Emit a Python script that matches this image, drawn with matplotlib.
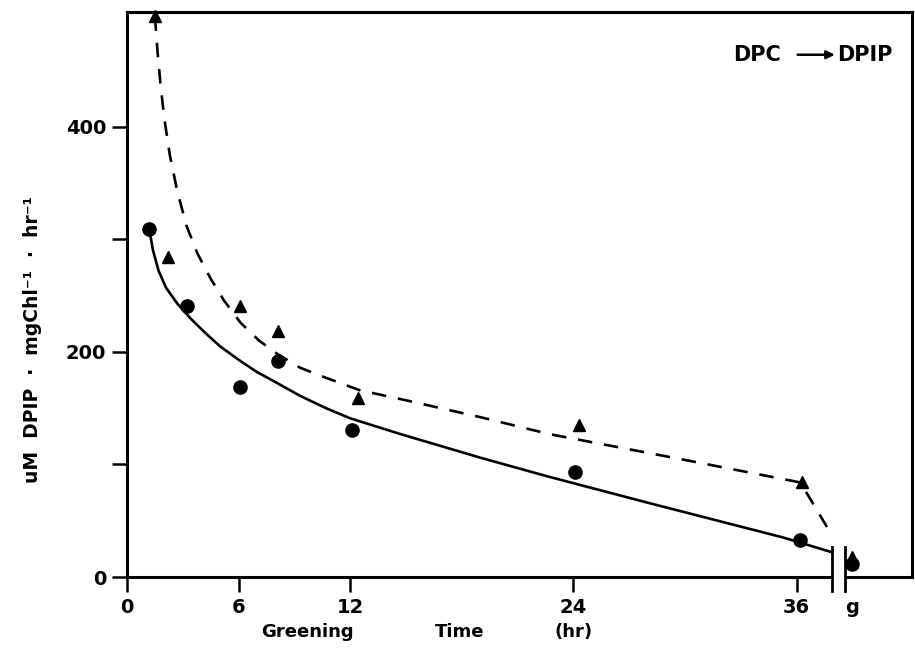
import matplotlib
matplotlib.use("Agg")
import matplotlib.pyplot as plt

plt.rcParams['font.family'] = ['DejaVu Sans']
plt.rcParams['font.weight'] = 'bold'

# measured points (circles, solid curve)
circle_hr = [1.2, 3.2, 6.1, 8.1, 12.1, 24.1, 36.2, 39.0]
circle_val = [309, 241, 169, 192, 131, 93, 33, 12]
# measured points (triangles, dashed curve)
tri_hr = [1.5, 2.2, 6.1, 8.1, 12.4, 24.3, 36.3, 39.0]
tri_val = [498, 284, 241, 219, 159, 135, 84, 18]

# hand-drawn fitted curves
solid_hr = [1.2, 1.4, 1.7, 2.1, 2.7, 3.4, 4.2, 5.0, 6.0, 7.0, 8.0, 9.3, 10.7, 12.0,
            14.7, 19.0, 22.7, 28.0, 35.3, 37.9]
solid_val = [309, 290, 272, 257, 243, 230, 217, 205, 193, 182, 173, 161, 150, 141,
             127, 106, 89, 66, 35, 22]
dash_hr = [1.5, 1.65, 1.8, 2.0, 2.3, 2.7, 3.2, 3.8, 4.5, 5.2, 6.1, 7.1, 8.1, 9.3,
           10.7, 12.5, 15.0, 19.0, 22.7, 30.0, 36.2, 37.9]
dash_val = [498, 465, 438, 408, 375, 343, 312, 287, 265, 246, 226, 210, 198, 186,
            177, 166, 157, 142, 127, 104, 84, 37]

xtick_pos = [0, 6, 12, 24, 36, 39]
xtick_lab = ['0', '6', '12', '24', '36', 'g']
ytick_pos = [0, 100, 200, 300, 400]
ytick_lab = ['0', '', '200', '', '400']

XMAX = 42.2
YMAX = 502
BREAK = (37.9, 38.6)

fig = plt.figure(figsize=(9.15, 6.54), dpi=100)
ax = fig.add_axes([0.1388, 0.1177, 0.9967 - 0.1388, 0.9817 - 0.1177])
ax.set_xlim(0, XMAX)
ax.set_ylim(0, YMAX)

lw_axis = 2.2
for s in ['left', 'top', 'right']:
    ax.spines[s].set_linewidth(lw_axis)
ax.spines['bottom'].set_visible(False)
# broken bottom axis
ax.plot([0, BREAK[0]], [0, 0], color='black', lw=lw_axis, clip_on=False, solid_capstyle='butt')
ax.plot([BREAK[1], XMAX], [0, 0], color='black', lw=lw_axis, clip_on=False, solid_capstyle='butt')
for bx in BREAK:
    ax.plot([bx, bx], [-12, 27], color='black', lw=2.0, clip_on=False)

ax.plot(solid_hr, solid_val, color='black', lw=1.9, solid_capstyle='round',
        solid_joinstyle='round')
ax.plot(dash_hr, dash_val, color='black', lw=1.9, dashes=(5.5, 4.5))
ax.plot(circle_hr, circle_val, 'o', color='black', ms=9.5, clip_on=False)
ax.plot(tri_hr, tri_val, '^', color='black', ms=8, clip_on=False)

ax.set_xticks(xtick_pos)
ax.set_xticklabels(xtick_lab)
ax.set_yticks(ytick_pos)
ax.set_yticklabels(ytick_lab)
ax.tick_params(axis='both', direction='out', length=11, width=1.8, labelsize=14, pad=4)
ax.xaxis.get_major_ticks()[-1].tick1line.set_visible(False)
for t in ax.get_xticklabels() + ax.get_yticklabels():
    t.set_fontweight('bold')

ax.set_ylabel('uM  DPIP  ·  mgChl⁻¹  ·  hr⁻¹', fontsize=13.5, fontweight='bold')
ax.yaxis.set_label_coords(-0.108, 0.42)

# x-axis title, widely spaced words
fig.text(0.285, 0.033, 'Greening', fontsize=13, fontweight='bold', ha='left', va='center')
fig.text(0.475, 0.033, 'Time', fontsize=13, fontweight='bold', ha='left', va='center')
fig.text(0.606, 0.033, '(hr)', fontsize=13, fontweight='bold', ha='left', va='center')

# label for the reaction
ax.text(32.6, 464, 'DPC', fontsize=15, fontweight='bold', ha='left', va='center')
ax.annotate('', xy=(38.2, 464), xytext=(35.9, 464),
            arrowprops=dict(arrowstyle='-|>', color='black', lw=1.8, mutation_scale=12))
ax.text(38.2, 464, 'DPIP', fontsize=15, fontweight='bold', ha='left', va='center')

fig.savefig('out.png', dpi=100, facecolor='white')
